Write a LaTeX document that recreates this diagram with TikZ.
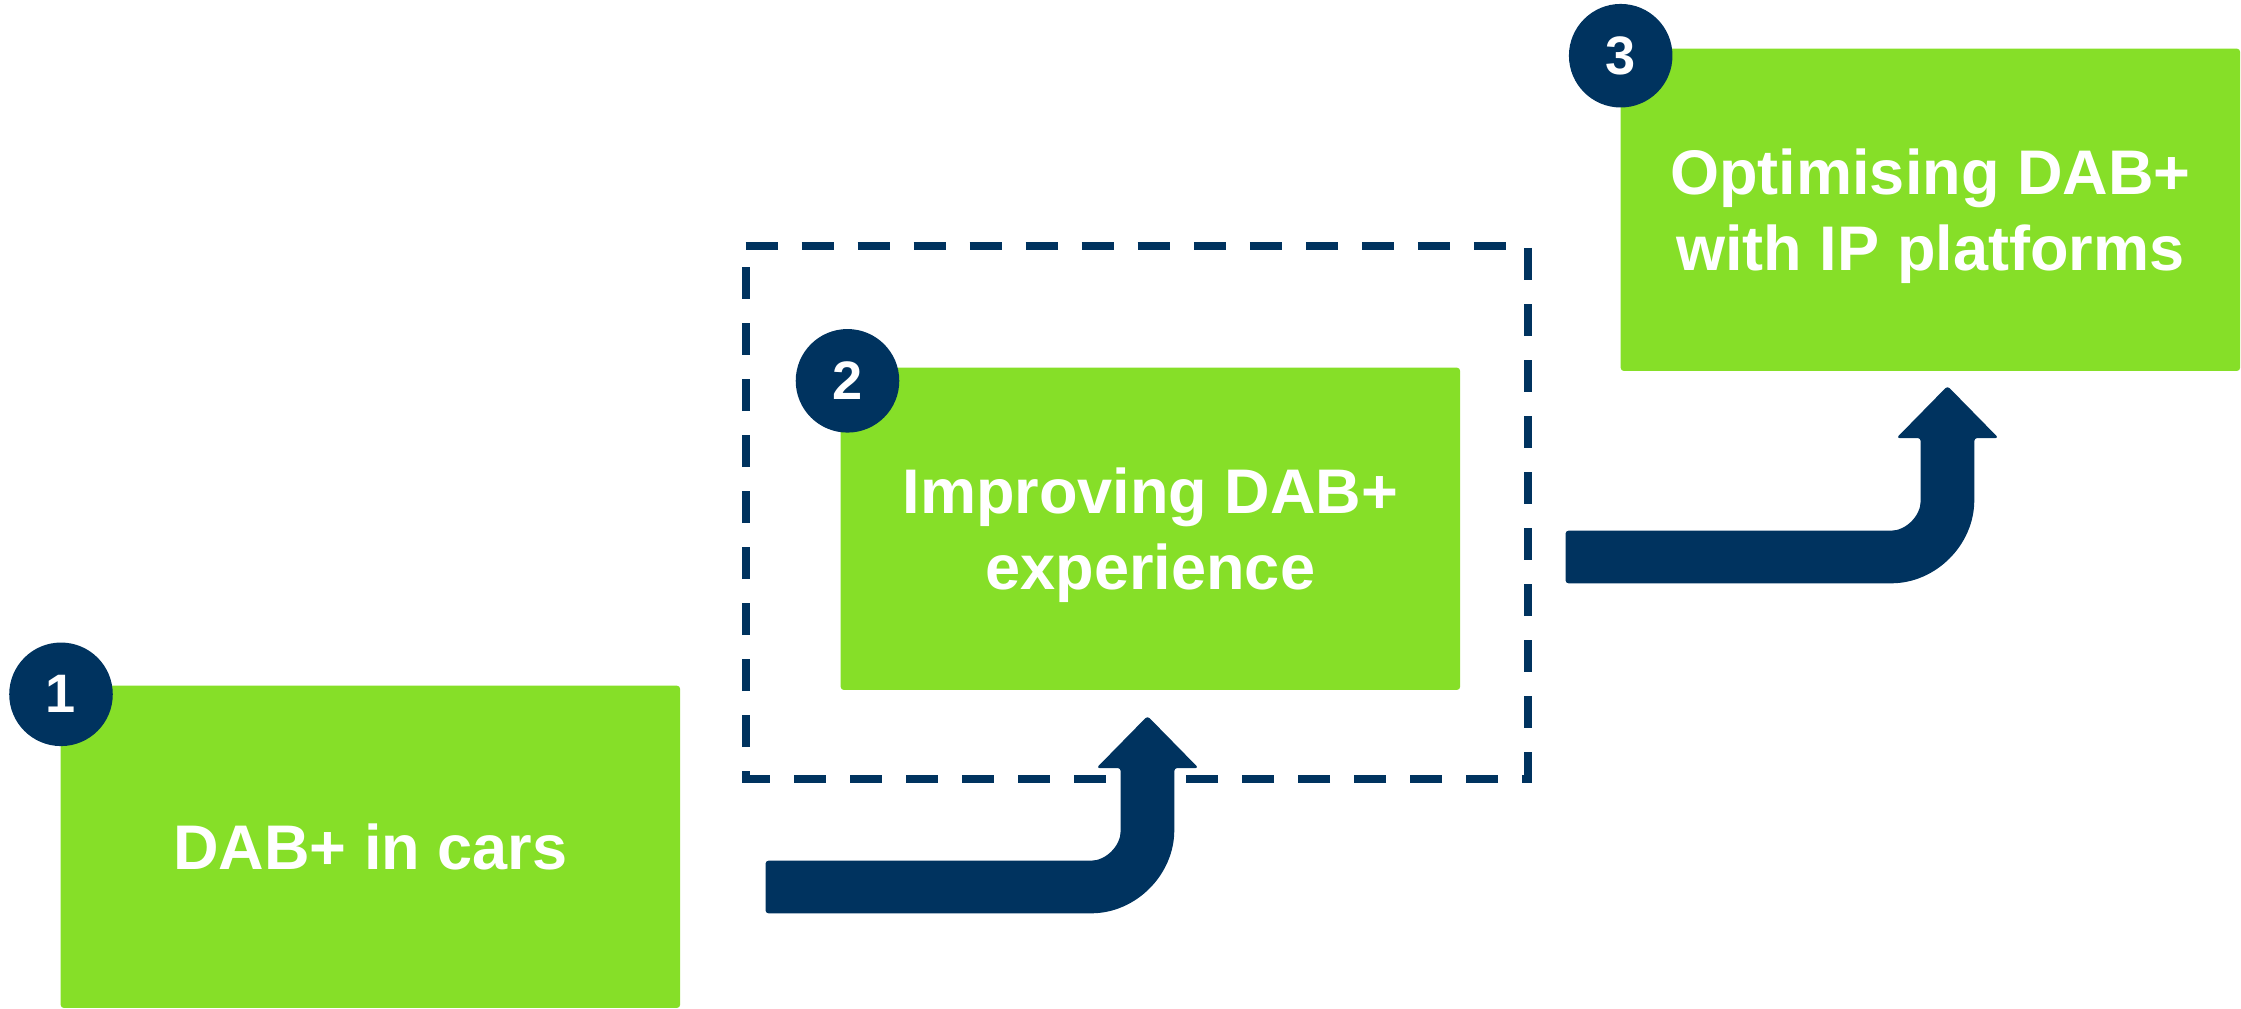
\documentclass[tikz,border=0pt]{standalone}
\usepackage{fontspec}
\setmainfont{Liberation Sans}
\definecolor{dabgreen}{HTML}{86DF28}
\definecolor{dabnavy}{HTML}{00335F}
\tikzset{
  stepbox/.style={rectangle, fill=dabgreen, rounded corners=0.03cm,
    minimum width=6.19cm, minimum height=3.22cm, inner sep=0pt,
    anchor=north west, text=white, align=center, text depth=0pt,
    font=\bfseries\fontsize{17.93pt}{21.6pt}\selectfont},
  numcircle/.style={circle, fill=dabnavy, minimum size=1.035cm, inner sep=0pt,
    text=white, font=\bfseries\fontsize{15.4pt}{18pt}\selectfont},
  groupframe/.style={draw=dabnavy, line width=0.08cm,
    dash pattern=on 0.32cm off 0.24cm, dash phase=0cm},
  bentarrow/.pic={
    \fill[dabnavy, rounded corners=0.03cm]
      (0,0) -- (51,52) -- (26.8,52) -- (26.8,111.3)
      .. controls (26.8,158.8) and (-11.7,197.3) .. (-59.2,197.3)
      -- (-382,197.3) -- (-382,144.7) -- (-59.8,144.7)
      .. controls (-41.6,144.7) and (-26.8,129.9) .. (-26.8,111.7)
      -- (-26.8,52) -- (-51,52) -- cycle;
  }
}
\begin{document}
\begin{tikzpicture}[x=0.01cm, y=-0.01cm]
  \useasboundingbox (0,0) rectangle (2241,1008);
  % dashed frame round step 2
  \coordinate (fnw) at (745.5,245.5);
  \coordinate (fse) at (1527.5,779);
  \draw[groupframe] (fnw) -- (fnw -| fse) -- (fse) -- (fse -| fnw) -- cycle;
  % steps
  \node[stepbox] (s1) at (60,685) {DAB+ in cars};
  \node[stepbox] (s2) at (840,367) {Improving DAB+\\experience};
  \node[stepbox] (s3) at (1620,48) {Optimising DAB+\\with IP platforms};
  % numbers
  \node[numcircle] (c1) at (61,694.3) {1};
  \node[numcircle] (c2) at (847.5,380.8) {2};
  \node[numcircle] (c3) at (1620.7,55.7) {3};
  % bent arrows
  \pic (a1) at (1147.5,716) {bentarrow};
  \pic (a2) at (1947.5,386) {bentarrow};
\end{tikzpicture}
\end{document}
